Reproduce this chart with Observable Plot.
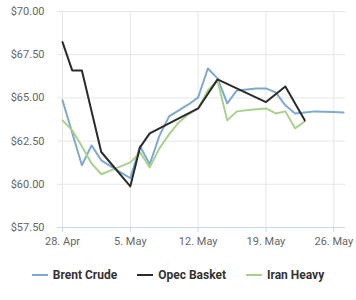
<!DOCTYPE html>
<html>
<head>
<meta charset="utf-8">
<script src="https://cdn.jsdelivr.net/npm/d3@7"></script>
<script src="https://cdn.jsdelivr.net/npm/@observablehq/plot@0.6"></script>
<style>
  html, body { margin: 0; padding: 0; background: #fff; }
  body { width: 356px; height: 300px; overflow: hidden; font-family: Roboto, "Noto Sans", sans-serif; }
  #legend { display: flex; justify-content: center; align-items: center; height: 40px; gap: 20px; font-size: 12px; font-weight: bold; color: #333; padding-top: 3px; padding-left: 0px; }
  .item { display: flex; align-items: center; gap: 5px; }
  .sw { width: 16px; height: 2px; }
</style>
</head>
<body>
<div id="chart"></div>
<div id="legend"></div>
<script>
const seriesNames = ["Brent Crude", "Opec Basket", "Iran Heavy"];
const seriesColors = ["#7eaacf", "#2b2b2b", "#a9d18e"];

const brentDates = ["2019-04-28","2019-04-30","2019-05-01","2019-05-02","2019-05-03","2019-05-04","2019-05-05","2019-05-06","2019-05-07","2019-05-08","2019-05-09","2019-05-10","2019-05-11","2019-05-12","2019-05-13","2019-05-14","2019-05-15","2019-05-16","2019-05-17","2019-05-18","2019-05-19","2019-05-20","2019-05-21","2019-05-22","2019-05-23","2019-05-24","2019-05-25","2019-05-26","2019-05-27"];
const brentValues = [64.86,61.10,62.25,61.39,61.04,60.69,60.35,62.20,61.16,62.80,63.93,64.28,64.62,65.03,66.70,66.13,64.68,65.43,65.49,65.55,65.55,65.32,64.57,64.10,64.16,64.22,64.20,64.18,64.16];

const opecDates = ["2019-04-28","2019-04-29","2019-04-30","2019-05-02","2019-05-05","2019-05-06","2019-05-07","2019-05-12","2019-05-14","2019-05-19","2019-05-21","2019-05-23"];
const opecValues = [68.23,66.59,66.59,61.87,59.88,62.14,62.95,64.39,66.07,64.76,65.66,63.70];

const iranDates = ["2019-04-28","2019-04-29","2019-04-30","2019-05-01","2019-05-02","2019-05-03","2019-05-04","2019-05-05","2019-05-06","2019-05-07","2019-05-08","2019-05-09","2019-05-10","2019-05-11","2019-05-12","2019-05-13","2019-05-14","2019-05-15","2019-05-16","2019-05-17","2019-05-18","2019-05-19","2019-05-20","2019-05-21","2019-05-22","2019-05-23"];
const iranValues = [63.70,63.12,62.20,61.21,60.58,60.81,61.04,61.27,61.85,60.98,62.08,62.89,63.58,64.05,64.39,65.43,66.00,63.70,64.22,64.28,64.34,64.39,64.10,64.22,63.24,63.64];

const xTickDates = ["2019-04-28","2019-05-05","2019-05-12","2019-05-19","2019-05-26"];
const yTicks = [57.5, 60, 62.5, 65, 67.5, 70];

const toRows = (dates, values) => dates.map((d, i) => ({date: new Date(d + "T00:00:00Z"), value: values[i]}));
const brent = toRows(brentDates, brentValues);
const opec = toRows(opecDates, opecValues);
const iran = toRows(iranDates, iranValues);
const xTicks = xTickDates.map(d => new Date(d + "T00:00:00Z"));
const fmt = d3.utcFormat("%-d. %b");

const chart = Plot.plot({
  width: 356,
  height: 252,
  marginLeft: 57,
  marginRight: 11,
  marginTop: 11,
  marginBottom: 25,
  insetLeft: 5,
  insetRight: 2,
  style: {fontFamily: "Roboto, sans-serif", fontSize: "11px", background: "#fff"},
  x: {type: "utc", domain: [new Date("2019-04-28T00:00:00Z"), new Date("2019-05-27T00:00:00Z")]},
  y: {domain: [57.5, 70]},
  marks: [
    Plot.gridY(yTicks, {stroke: "#e6e6e6", strokeOpacity: 1}),
    Plot.gridX(xTicks, {stroke: "#e6e6e6", strokeOpacity: 1}),
    Plot.ruleY([57.5], {stroke: "#ccd6eb"}),
    Plot.axisX(xTicks, {tickSize: 5, tickPadding: 5, stroke: "#ccd6eb", fill: "#666", tickFormat: fmt, label: null, fontSize: 11}),
    Plot.axisY(yTicks, {tickSize: 0, tickPadding: 13, fill: "#666", tickFormat: d => "$" + d.toFixed(2), label: null, fontSize: 11}),
    Plot.line(brent, {x: "date", y: "value", stroke: seriesColors[0], strokeWidth: 2}),
    Plot.line(iran, {x: "date", y: "value", stroke: seriesColors[2], strokeWidth: 2}),
    Plot.line(opec, {x: "date", y: "value", stroke: seriesColors[1], strokeWidth: 2})
  ]
});
document.getElementById("chart").appendChild(chart);

const legend = document.getElementById("legend");
seriesNames.forEach((name, i) => {
  const item = document.createElement("div");
  item.className = "item";
  const sw = document.createElement("span");
  sw.className = "sw";
  sw.style.background = seriesColors[i];
  const label = document.createElement("span");
  label.textContent = name;
  item.appendChild(sw);
  item.appendChild(label);
  legend.appendChild(item);
});
</script>
</body>
</html>
